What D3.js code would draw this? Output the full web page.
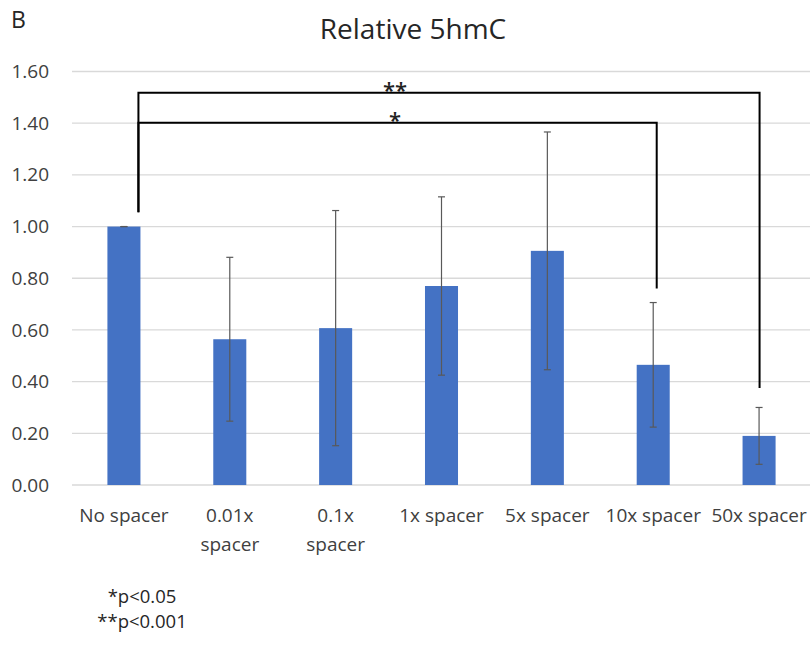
<!DOCTYPE html>
<html>
<head>
<meta charset="utf-8">
<script src="https://cdn.jsdelivr.net/npm/d3@7"></script>
<style>
  body { margin: 0; background: #fff; }
  svg { display: block; font-family: "Open Sans", sans-serif; }
</style>
</head>
<body>
<svg id="chart" width="812" height="646"></svg>
<script>
// ---- data ----
const categories = ["No spacer", "0.01x spacer", "0.1x spacer", "1x spacer", "5x spacer", "10x spacer", "50x spacer"];
const tickLabels = [["No spacer"], ["0.01x", "spacer"], ["0.1x", "spacer"], ["1x spacer"], ["5x spacer"], ["10x spacer"], ["50x spacer"]];
const means = [1.00, 0.564, 0.607, 0.770, 0.906, 0.465, 0.190];
const errors = [0.0, 0.317, 0.455, 0.345, 0.460, 0.241, 0.110];
const yTicks = [0, 0.2, 0.4, 0.6, 0.8, 1.0, 1.2, 1.4, 1.6];
// significance brackets: from, to, bracket height, left end, right end, label
const brackets = [
  { from: "No spacer", to: "50x spacer", level: 1.518, leftEnd: 1.055, rightEnd: 0.375, label: "**" },
  { from: "No spacer", to: "10x spacer", level: 1.402, leftEnd: 1.055, rightEnd: 0.760, label: "*" }
];
const footnotes = ["*p<0.05", "**p<0.001"];

// ---- layout ----
const svg = d3.select("#chart");
const plotLeft = 71, plotRight = 812, plotTop = 71.5, plotBottom = 485;

const x = d3.scaleBand().domain(categories).range([plotLeft, plotRight]).paddingInner(0.688).paddingOuter(0.344);
const y = d3.scaleLinear().domain([0, 1.6]).range([plotBottom, plotTop]);

// gridlines
svg.append("g").selectAll("line").data(yTicks).join("line")
  .attr("x1", 72).attr("x2", 810)
  .attr("y1", d => y(d)).attr("y2", d => y(d))
  .attr("stroke", "#d9d9d9").attr("stroke-width", 1.3);

// y axis labels
const yAxis = d3.axisLeft(y).tickValues(yTicks).tickFormat(d3.format(".2f")).tickSize(0).tickPadding(0);
const yg = svg.append("g").attr("transform", "translate(49,0)").call(yAxis);
yg.select(".domain").remove();
yg.selectAll("text").attr("font-size", 19).attr("fill", "#404040").attr("font-family", "Open Sans, sans-serif");

// bars
svg.append("g").selectAll("rect").data(categories).join("rect")
  .attr("x", d => x(d)).attr("width", x.bandwidth())
  .attr("y", (d, i) => y(means[i])).attr("height", (d, i) => y(0) - y(means[i]))
  .attr("fill", "#4472c4");

// error bars
const eg = svg.append("g").attr("stroke", "#595959").attr("stroke-width", 1.2);
categories.forEach((c, i) => {
  const cx = x(c) + x.bandwidth() / 2;
  const hi = y(means[i] + errors[i]), lo = y(means[i] - errors[i]);
  eg.append("line").attr("x1", cx).attr("x2", cx).attr("y1", hi).attr("y2", lo);
  eg.append("line").attr("x1", cx - 3.5).attr("x2", cx + 3.5).attr("y1", hi).attr("y2", hi);
  eg.append("line").attr("x1", cx - 3.5).attr("x2", cx + 3.5).attr("y1", lo).attr("y2", lo);
});

// significance brackets
const bg = svg.append("g");
brackets.forEach(b => {
  const x1 = x(b.from) + x.bandwidth() / 2 + 14.5;
  const x2 = x(b.to) + x.bandwidth() / 2 + (b.label === "*" ? 3.5 : 0.5);
  bg.append("path")
    .attr("d", `M${x1},${y(b.leftEnd)}V${y(b.level)}H${x2}V${y(b.rightEnd)}`)
    .attr("fill", "none").attr("stroke", "#000").attr("stroke-width", 2);
  bg.append("text").attr("x", 395).attr("y", y(b.level) + 5)
    .attr("text-anchor", "middle").attr("font-size", 22).attr("font-weight", 600).attr("fill", "#222")
    .text(b.label);
});

// x labels
const xg = svg.append("g");
categories.forEach((c, i) => {
  const t = xg.append("text").attr("x", x(c) + x.bandwidth() / 2).attr("y", 522)
    .attr("text-anchor", "middle").attr("font-size", 19).attr("fill", "#404040");
  tickLabels[i].forEach((line, j) => {
    t.append("tspan").attr("x", x(c) + x.bandwidth() / 2).attr("dy", j === 0 ? 0 : 28.5).text(line);
  });
});

// title and panel letter
svg.append("text").attr("x", 413).attr("y", 39).attr("text-anchor", "middle")
  .attr("font-size", 28).attr("fill", "#262626").text("Relative 5hmC");
svg.append("text").attr("x", 11).attr("y", 28)
  .attr("font-size", 23).attr("fill", "#262626").text("B");

// footnotes
footnotes.forEach((f, i) => {
  svg.append("text").attr("x", 142).attr("y", 603 + i * 25).attr("text-anchor", "middle")
    .attr("font-size", 18.5).attr("fill", "#262626").text(f);
});
</script>
</body>
</html>
